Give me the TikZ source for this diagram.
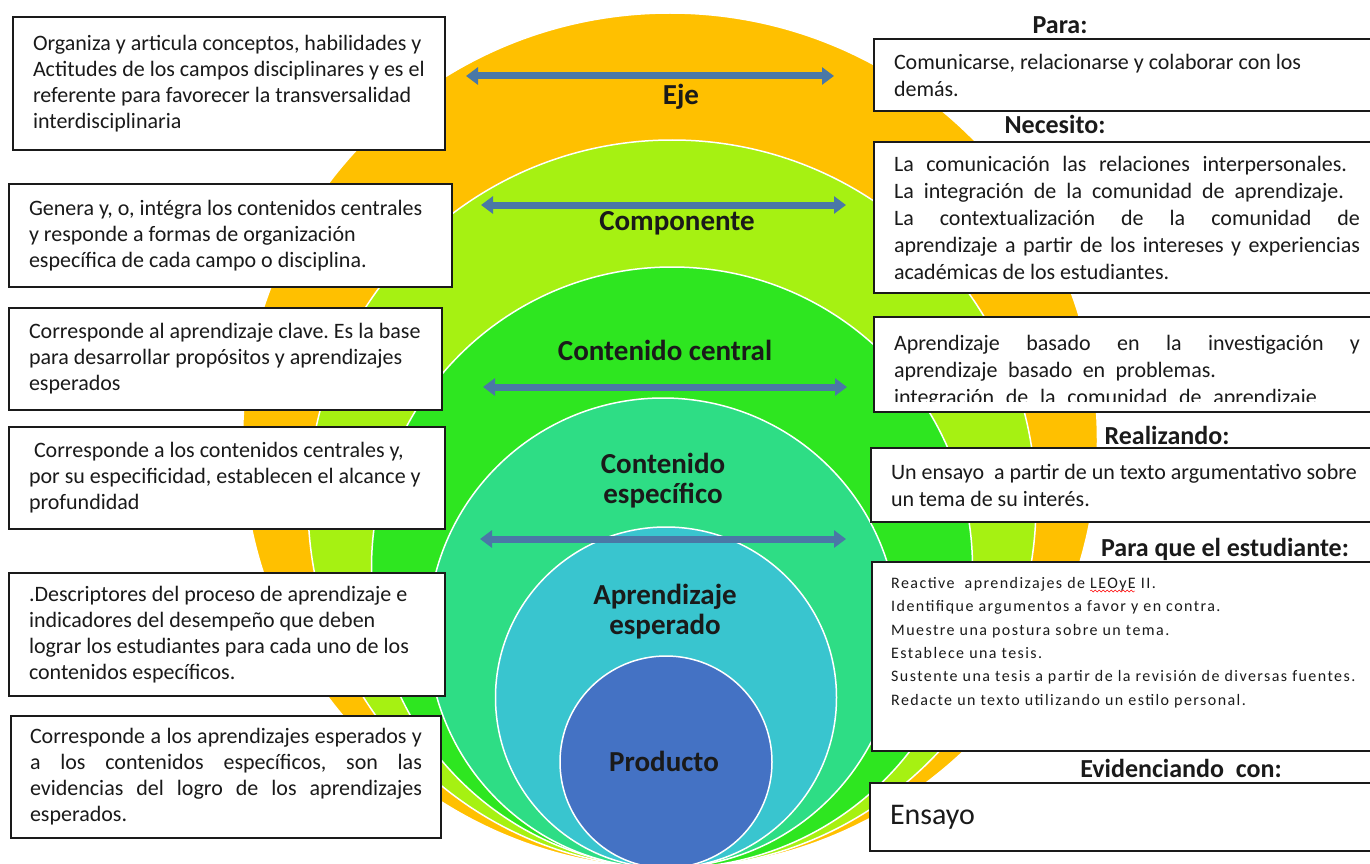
\documentclass[tikz,border=0pt]{standalone}
\usepackage{fontspec}
\setmainfont{Carlito}
\usetikzlibrary{arrows.meta,decorations.pathmorphing}
\definecolor{ink}{HTML}{1A1A1A}
\definecolor{cEje}{HTML}{FFC000}
\definecolor{cComp}{HTML}{A6F112}
\definecolor{cCentral}{HTML}{2EE620}
\definecolor{cEspecif}{HTML}{2EDD85}
\definecolor{cEsperado}{HTML}{39C5CF}
\definecolor{cProducto}{HTML}{4472C4}
\definecolor{cFlecha}{HTML}{4A78A6}
\newcommand{\leftfont}{\fontsize{22}{26}\selectfont}
\newcommand{\rightfont}{\fontsize{22}{27}\selectfont}
\newcommand{\smallfont}{\fontsize{16}{23.4}\selectfont\addfontfeature{LetterSpace=9}}
\newcommand{\jline}[2][\linewidth]{\makebox[#1][s]{#2}}
\frenchspacing
\tikzset{
	ring/.style={draw=white,line width=1.5pt},
	lbl/.style={font=\fontsize{29}{30}\selectfont\bfseries,text=ink,align=center},
	hdr/.style={font=\fontsize{26}{28}\selectfont\bfseries,text=ink},
	box/.style={draw=ink,line width=2pt,fill=white,text=ink,inner xsep=20pt,inner ysep=0pt,align=flush left},
	lbox/.style={box,font=\leftfont},
	rbox/.style={box,font=\rightfont},
	dbl/.style={{Triangle[length=12pt,width=17pt]}-{Triangle[length=12pt,width=17pt]},line width=7pt,draw=cFlecha}
}
\begin{document}
\begin{tikzpicture}[x=1pt,y=-1pt]
	% page frame
	\useasboundingbox (0,0) rectangle (1370,864);
	\clip (0,0) rectangle (1370,864);
	% the rings
	\filldraw[fill=cEje,ring] (670,440.5) circle[radius=427.5pt];
	\filldraw[fill=cComp,ring] (672,504) circle[radius=364pt];
	\filldraw[fill=cCentral,ring] (672,567.5) circle[radius=300.5pt];
	\filldraw[fill=cEspecif,ring] (663,633) circle[radius=235pt];
	\filldraw[fill=cEsperado,ring] (666,697.5) circle[radius=170.5pt];
	\filldraw[fill=cProducto,ring] (666,762) circle[radius=106pt];
	% ring names
	\node[lbl] (eje) at (681,97) {Eje};
	\node[lbl] (comp) at (677,223) {Componente};
	\node[lbl] (central) at (665,350) {Contenido central};
	\node[lbl] (especif) at (663,481) {Contenido\\específico};
	\node[lbl] (esperado) at (665,612) {Aprendizaje\\esperado};
	\node[lbl] (producto) at (664,761) {Producto};
	% the double arrows
	\coordinate (ejeL) at (466,76);   \coordinate (ejeR) at (834,76);
	\coordinate (compL) at (481,205); \coordinate (compR) at (846,205);
	\coordinate (centL) at (483,387); \coordinate (centR) at (847,387);
	\coordinate (espL) at (480,539);  \coordinate (espR) at (846,539);
	\draw[dbl] (ejeL) -- (ejeR);
	\draw[dbl] (compL) -- (compR);
	\draw[dbl] (centL) -- (centR);
	\draw[dbl] (espL) -- (espR);
	% left boxes
	\node[lbox,minimum width=432pt,minimum height=133pt,text width=392pt] (bEje) at (229,83.5)
		{Organiza y articula conceptos, habilidades y\\Actitudes de los campos disciplinares y es el\\referente para favorecer la transversalidad\\interdisciplinaria};
	\node[lbox,minimum width=443pt,minimum height=103pt,text width=403pt] (bComp) at (230.5,235.5)
		{Genera y, o, intégra los contenidos centrales\\y responde a formas de organización\\específica de cada campo o disciplina.};
	\node[lbox,minimum width=433pt,minimum height=102pt,text width=393pt] (bCentral) at (225.5,359)
		{Corresponde al aprendizaje clave. Es la base\\para desarrollar propósitos y aprendizajes\\esperados};
	\node[lbox,minimum width=436pt,minimum height=102pt,text width=396pt] (bEspecif) at (227,478)
		{\hspace*{5pt}Corresponde a los contenidos centrales y,\\por su especificidad, establecen el alcance y\\profundidad};
	\node[lbox,minimum width=436pt,minimum height=123pt,text width=396pt] (bEsperado) at (227,634.5)
		{.Descriptores del proceso de aprendizaje e\\indicadores del desempeño que deben\\lograr los estudiantes para cada uno de los\\contenidos específicos.};
	\node[lbox,minimum width=430pt,minimum height=122pt,text width=392pt,inner xsep=19pt] (bProducto) at (226,777)
		{\jline{Corresponde a los aprendizajes esperados y}\\\jline{a los contenidos específicos, son las}\\\jline{evidencias del logro de los aprendizajes}\\esperados.};
	% right headers
	\node[hdr] (para) at (1060,25) {Para:};
	\node[hdr] (necesito) at (1055,124) {Necesito:};
	\node[hdr] (realizando) at (1167,435) {Realizando:};
	\node[hdr] (paraque) at (1225,549) {Para que el estudiante:};
	\node[hdr] (evidenciando) at (1181,768) {Evidenciando\ \ con:};
	% right boxes
	\node[rbox,minimum width=506pt,minimum height=72pt,text width=466pt] (bPara) at (1127,75)
		{Comunicarse, relacionarse y colaborar con los\\demás.};
	\node[rbox,minimum width=506pt,minimum height=151pt,text width=466pt] (bNecesito) at (1127,217.5)
		{\jline[453pt]{La comunicación las relaciones interpersonales.}\\\jline[450pt]{La integración de la comunidad de aprendizaje.}\\\jline{La contextualización de la comunidad de}\\\jline{aprendizaje a partir de los intereses y experiencias}\\académicas de los estudiantes.};
	\node[rbox,minimum width=506pt,minimum height=95pt] (bEstrategia) at (1127,364.5) {};
	\begin{scope}
		\clip (bEstrategia.north west) rectangle ([yshift=12pt]bEstrategia.south east);
		\node[rbox,draw=none,fill=none,text width=466pt] (tEstrategia) at (1127,372)
			{\jline{Aprendizaje basado en la investigación y}\\\jline[322pt]{aprendizaje basado en problemas.}\\\jline[423pt]{integración de la comunidad de aprendizaje}};
	\end{scope}
	\node[rbox,minimum width=509pt,minimum height=74pt,text width=469pt] (bRealizando) at (1125.5,485)
		{Un ensayo\ \ a partir de un texto argumentativo sobre\\un tema de su interés.};
	\node[rbox,minimum width=508pt,minimum height=189pt] (bParaque) at (1126,656.5) {};
	\node[font=\smallfont,text=ink,align=flush left,anchor=north west,inner sep=0pt] (tParaque) at ([xshift=20pt,yshift=-16pt]bParaque.north west)
		{Reactive\ \ aprendizajes de LEOyE II.\\Identifique argumentos a favor y en contra.\\Muestre una postura sobre un tema.\\Establece una tesis.\\Sustente una tesis a partir de la revisión de diversas fuentes.\\Redacte un texto utilizando un estilo personal.};
	\draw[red,decorate,decoration={snake,amplitude=1pt,segment length=4pt}] (1090,591) -- (1135,591);
	\node[rbox,minimum width=510pt,minimum height=68pt,text width=470pt,font=\fontsize{30}{32}\selectfont] (bEvidencia) at (1125,817)
		{Ensayo};
\end{tikzpicture}
\end{document}
